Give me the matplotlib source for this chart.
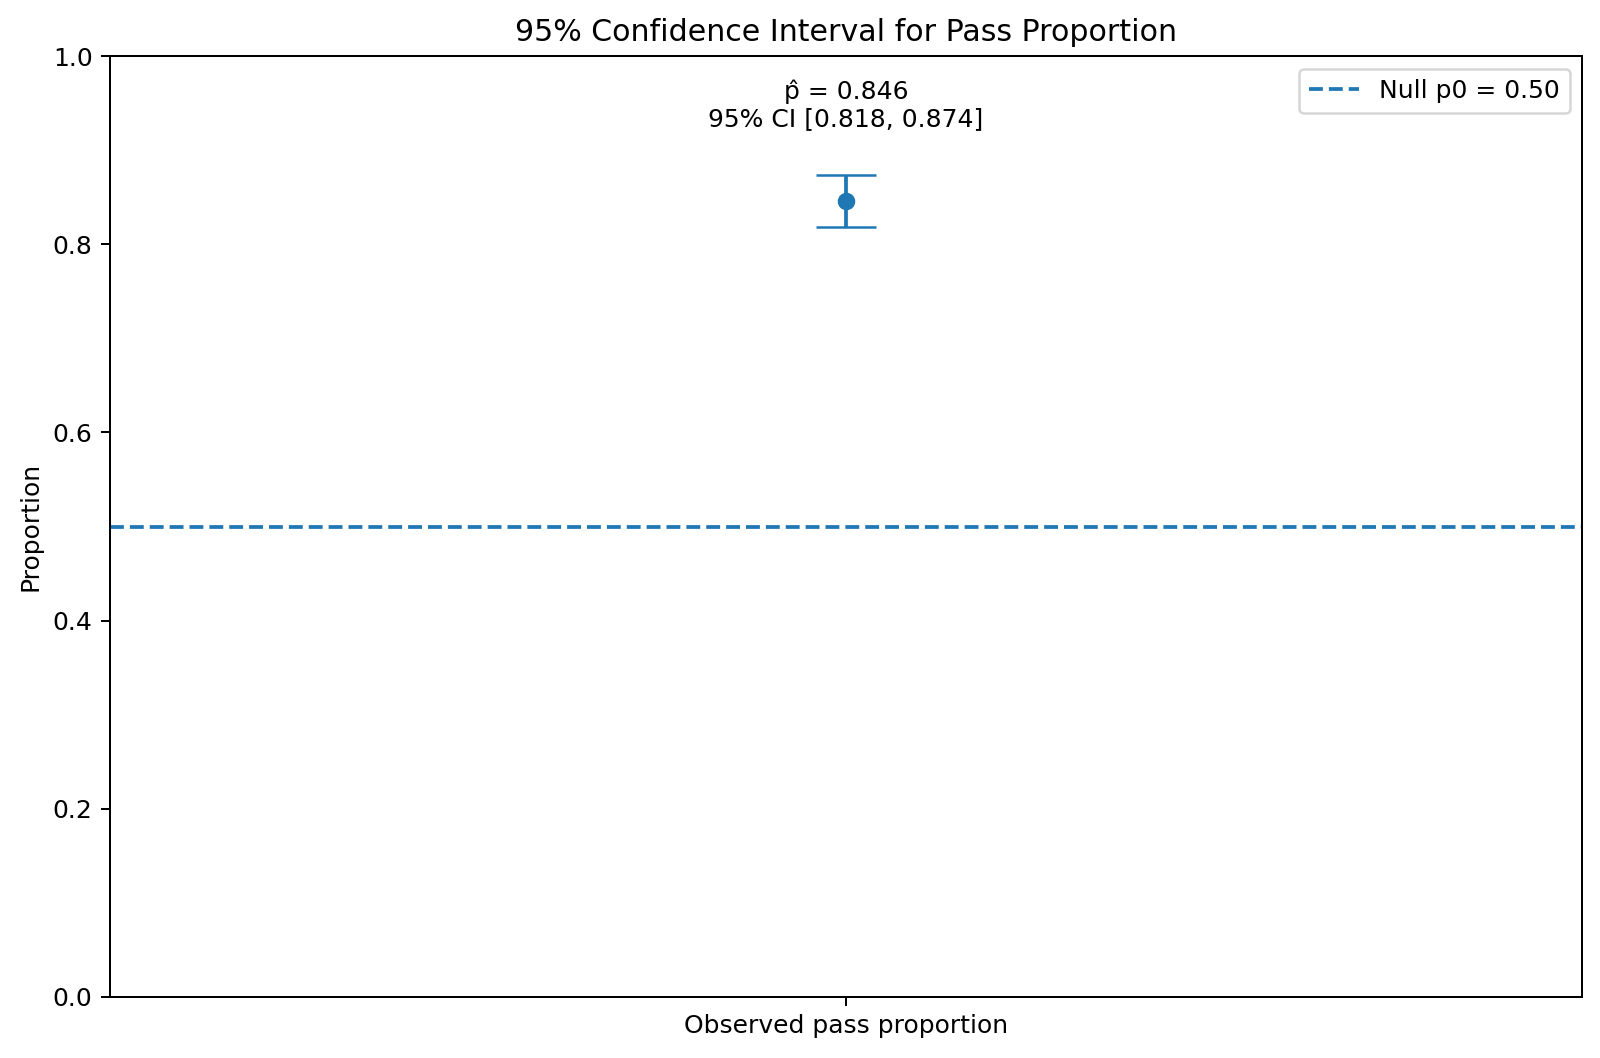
import numpy as np
import matplotlib
matplotlib.use("Agg")
from matplotlib import pyplot as plt

# values
p_hat = 0.846
ci_low = 0.818
ci_high = 0.874
p0 = 0.50
labels = ["Observed pass proportion"]

dpi = 180
fig, ax = plt.subplots(figsize=(1600 / dpi, 1058 / dpi), dpi=dpi)

x = np.arange(len(labels))
yerr = np.array([[p_hat - ci_low], [ci_high - p_hat]])
ax.errorbar(x, [p_hat], yerr=yerr, fmt='o', capsize=12, color='#1f77b4', linewidth=1.5)
ax.axhline(p0, linestyle='--', color='#1f77b4', label=f"Null p0 = {p0:.2f}")

ax.text(0, ci_high + 0.046, f"p\u0302 = {p_hat:.3f}\n95% CI [{ci_low:.3f}, {ci_high:.3f}]",
        ha='center', va='bottom')

ax.set_xlim(-1, 1)
ax.set_xticks(x)
ax.set_xticklabels(labels)
ax.set_ylim(0, 1)
ax.set_ylabel('Proportion')
ax.set_title('95% Confidence Interval for Pass Proportion')
ax.legend(loc='upper right')

fig.subplots_adjust(left=0.0688, right=0.9888, top=0.947, bottom=0.0577)
fig.savefig('out.png', dpi=dpi)
